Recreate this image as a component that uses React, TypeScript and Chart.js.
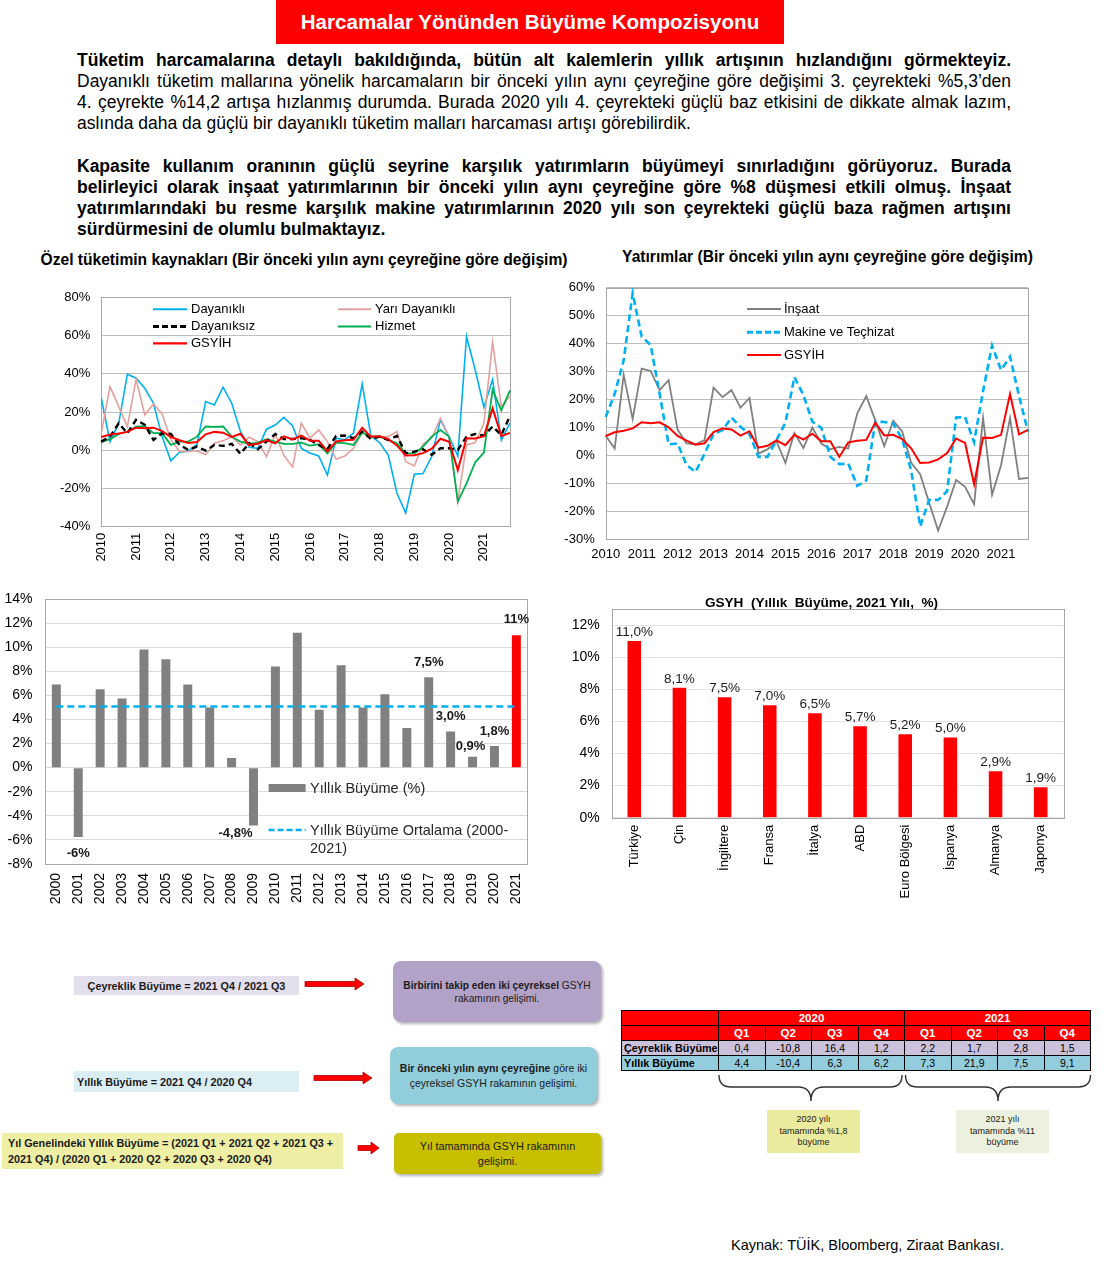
import React, { useEffect, useRef } from "react";
import { Chart, registerables } from "chart.js";

Chart.register(...registerables);

const FONT = '"Liberation Sans", Arial, Helvetica, sans-serif';
Chart.defaults.font.family = FONT;
Chart.defaults.color = "#000000";

// ---------- Quarterly data, 2010 Q1 – 2021 Q4 (yoy %) ----------
const quarterYears = ["2010", "2011", "2012", "2013", "2014", "2015", "2016", "2017", "2018", "2019", "2020", "2021"];
const quarterNames = ["Q1", "Q2", "Q3", "Q4"];
const quarterCategories = quarterYears.flatMap((y) => quarterNames.map((q) => `${y} ${q}`));

const gsyih = [6.9, 8.2, 8.8, 9.6, 11.8, 11.5, 11.8, 10.0, 6.9, 5.2, 3.8, 4.3, 8.3, 9.6, 9.2, 7.0, 8.6, 2.7, 3.4, 5.3, 3.6, 7.3, 5.6, 7.7, 5.0, 5.0, -0.6, 4.6, 5.2, 5.5, 11.7, 7.1, 7.3, 5.8, 2.5, -2.8, -2.6, -1.5, 0.8, 6.0, 4.4, -10.4, 6.3, 6.2, 7.3, 21.9, 7.5, 9.1];
const dayanikli = [27.2, 4.5, 14, 39.8, 37.7, 32.4, 24.6, 7, -5.5, -1, -0.5, 3, 25.5, 23.7, 33, 24.6, 9.8, 1.6, 1, 11, 13.2, 17.2, 12.7, 1, -1.5, -3, -13, 6.3, 5.5, 8.9, 34.7, 7.5, 4, -2.5, -22.5, -32.8, -12.6, -12.2, -3.3, 16, 7, -3, 59.5, 42, 22.5, 37, 5.3, 14.2];
const yariDayanikli = [8.9, 33.3, 22.8, 12.4, 37.1, 18.5, 24.2, 19, 5.4, -0.7, -0.7, -0.3, -2.4, 3.7, 4.9, 7.1, 2.8, 6.8, 4.5, -3.3, 8.5, -2.8, -8.7, 14.1, 6.3, 10.6, 4.5, -4.7, -3, 1, 8.9, 7.7, 7.1, 7.1, 9.8, -5.9, -8.2, 3.3, 6.3, 16.7, 7.1, -26.9, 2.8, 4, 14.1, 56.5, 22.8, 28.4];
const dayaniksiz = [4.5, 7.1, 14.1, 8.9, 15.9, 13.3, 5.4, 8.9, 8.5, 2.8, 0.2, 1.9, -0.2, 2.8, 2.3, 3.3, -1.9, 3.7, 0.5, 4.5, 8.5, 5.9, 5.9, 6.3, 5.4, 2.8, 0.5, 7.5, 7.7, 6.3, 9.8, 5.9, 7.1, 5.4, 7.5, -1.6, -0.7, 0.5, -2.4, 1, 1, 0.2, 7.1, 8.5, 7.7, 12.4, 8, 18];
const hizmet = [4.2, 5.8, 8.5, 9.8, 12.4, 12.7, 8.9, 8.9, 2.8, 4.5, 4.5, 7.1, 12.4, 12.2, 12.4, 7.1, 4.5, 3.3, 4, 5.8, 4.5, 3.3, 3.3, 4, 2.4, 3.1, -1.6, 4, 3.7, 2.8, 9.3, 7.1, 7.1, 5.4, 3.7, -1.6, -1.6, 1.9, 7.1, 10.6, 7.1, -26.9, -17.3, -6.3, -1.2, 31.6, 20.8, 31.3];
const insaat = [7.0, 2.4, 28.8, 13, 31, 30.2, 23.3, 26.9, 9.2, 4.2, 3.9, 5.4, 24.2, 20.8, 23.3, 17, 20.5, 0.6, 2.1, 5.0, -2.7, 8.0, 2.6, 9.9, 4.2, 2.1, 3.0, 2.4, 15, 21.2, 12.5, 3.3, 12.3, 8.5, -2.7, -6.8, -17, -27, -18.4, -8.9, -11.3, -17.5, 13.4, -14.2, -3.6, 13.4, -8.5, -8.1];
const makine = [13.7, 22, 34, 58, 42.5, 39.5, 22, 3.9, 4.2, -3.5, -6, 0.5, 7.6, 9, 13.5, 10.2, 7.6, -0.6, -0.6, 5.4, 11.6, 28, 21.6, 12, 9.8, -0.5, -3.2, -3, -11, -9, 12, 11.9, 11.4, 5.7, -5.5, -25.5, -16, -16, -12.9, 13.5, 13.6, 4.7, 23, 39.3, 30.5, 35.3, 21.3, 8.4];

// ---------- Annual growth 2000–2021 ----------
const annualYears = ["2000", "2001", "2002", "2003", "2004", "2005", "2006", "2007", "2008", "2009", "2010", "2011", "2012", "2013", "2014", "2015", "2016", "2017", "2018", "2019", "2020", "2021"];
const annualGrowth = [6.9, -5.75, 6.5, 5.75, 9.8, 9.0, 6.9, 5.0, 0.8, -4.8, 8.4, 11.2, 4.8, 8.5, 5.0, 6.1, 3.3, 7.5, 3.0, 0.9, 1.8, 11.0];
const averageGrowth = 5.07;
const highlightYear = "2021";
const annualLabelIndices = [1, 9, 17, 18, 19, 20, 21];
const annualLabelDecimals = [0, 1, 1, 1, 1, 1, 0];

// ---------- Country comparison 2021 ----------
const countries = ["Türkiye", "Çin", "İngiltere", "Fransa", "İtalya", "ABD", "Euro Bölgesi", "İspanya", "Almanya", "Japonya"];
const countryGrowth = [11.0, 8.1, 7.5, 7.0, 6.5, 5.7, 5.2, 5.0, 2.9, 1.9];

// ---------- Table ----------
const tableYears = ["2020", "2021"];
const tableQuarters = ["Q1", "Q2", "Q3", "Q4"];
const tableRowLabels = ["Çeyreklik Büyüme", "Yıllık Büyüme"];
const quarterlyGrowthRow = [0.4, -10.8, 16.4, 1.2, 2.2, 1.7, 2.8, 1.5];
const yearlyGrowthRow = [4.4, -10.4, 6.3, 6.2, 7.3, 21.9, 7.5, 9.1];

const fmt1 = (v: number) => v.toFixed(1).replace(".", ",");

const framePlugin = (color: string) => ({
  id: "frame",
  beforeDatasetsDraw(chart: any) {
    const { left, top, right, bottom } = chart.chartArea;
    const ctx = chart.ctx;
    ctx.save();
    ctx.strokeStyle = color;
    ctx.lineWidth = 1;
    ctx.strokeRect(Math.round(left) + 0.5, Math.round(top) + 0.5, Math.round(right - left), Math.round(bottom - top));
    ctx.restore();
  },
});

const ANNUAL_LABEL_OFFSETS = [[0, 17], [-18, 8], [0, -14.6], [0, -15.3], [-2, -10], [0, -14.3], [0, -15.3]];

const annualLabelPlugin = {
  id: "annualLabels",
  afterDatasetsDraw(chart: any) {
    const meta = chart.getDatasetMeta(0);
    const ctx = chart.ctx;
    ctx.save();
    ctx.font = `bold 13px ${FONT}`;
    ctx.fillStyle = "#1a1a1a";
    ctx.textAlign = "center";
    ctx.textBaseline = "middle";
    annualLabelIndices.forEach((idx, k) => {
      const el = meta.data[idx];
      const v = annualGrowth[idx];
      const [dx, dy] = ANNUAL_LABEL_OFFSETS[k];
      ctx.fillText(v.toFixed(annualLabelDecimals[k]).replace(".", ",") + "%", el.x + dx, el.y + dy);
    });
    ctx.restore();
  },
};

const countryLabelPlugin = {
  id: "countryLabels",
  afterDatasetsDraw(chart: any) {
    const meta = chart.getDatasetMeta(0);
    const ctx = chart.ctx;
    ctx.save();
    ctx.font = `13.5px ${FONT}`;
    ctx.fillStyle = "#1a1a1a";
    ctx.textAlign = "center";
    ctx.textBaseline = "bottom";
    meta.data.forEach((el: any, i: number) => {
      ctx.fillText(fmt1(countryGrowth[i]) + "%", el.x, el.y - 2);
    });
    ctx.restore();
  },
};

// fixed axis sizes; label-overflow paddings removed so layout.padding rules
const fixH = (h: number) => (s: any) => {
  s.height = h;
  s.paddingLeft = 0;
  s.paddingRight = 0;
  s.paddingTop = 0;
  s.paddingBottom = 0;
};
const fixW = (w: number) => (s: any) => {
  s.width = w;
  s.paddingLeft = 0;
  s.paddingRight = 0;
  s.paddingTop = 0;
  s.paddingBottom = 0;
};

type Box = { left: number; top: number; width: number; height: number };

function ChartBox({ box, build }: { box: Box; build: () => any }) {
  const ref = useRef<HTMLCanvasElement>(null);
  useEffect(() => {
    const chart = new Chart(ref.current as HTMLCanvasElement, build());
    return () => chart.destroy();
  }, []);
  return (
    <canvas
      ref={ref}
      width={box.width}
      height={box.height}
      style={{ position: "absolute", left: box.left, top: box.top, width: box.width, height: box.height }}
    />
  );
}

const pct = (v: any) => `${v}%`;

function consumptionConfig() {
  return {
    type: "line",
    data: {
      labels: quarterCategories,
      datasets: [
        { label: "Dayanıklı", data: dayanikli, borderColor: "#00b0f0", borderWidth: 1.6, order: 4 },
        { label: "Yarı Dayanıklı", data: yariDayanikli, borderColor: "#e3a09e", borderWidth: 1.6, order: 3 },
        { label: "Dayanıksız", data: dayaniksiz, borderColor: "#000000", borderWidth: 2.4, borderDash: [6, 4], order: 1 },
        { label: "Hizmet", data: hizmet, borderColor: "#00b050", borderWidth: 1.8, order: 2 },
        { label: "GSYİH", data: gsyih, borderColor: "#ff0000", borderWidth: 2, order: 0 },
      ],
    },
    options: {
      animation: false,
      responsive: false,
      layout: { padding: { left: 0, right: 10, top: 17.3, bottom: 13.3 } },
      elements: { point: { radius: 0 }, line: { tension: 0, fill: false } },
      plugins: { legend: { display: false }, tooltip: { enabled: false } },
      scales: {
        x: {
          type: "category",
          offset: false,
          grid: { display: false, drawTicks: false },
          border: { display: false },
          ticks: {
            autoSkip: false,
            maxRotation: 90,
            minRotation: 90,
            padding: 6,
            font: { size: 13 },
            color: "#000",
            callback: (_v: any, i: number) => (i % 4 === 0 ? quarterCategories[i].slice(0, 4) : ""),
          },
          afterFit: fixH(40),
        },
        y: {
          min: -40,
          max: 80,
          ticks: { stepSize: 20, callback: pct, font: { size: 13 }, color: "#000", padding: 11 },
          grid: { color: "#bfbfbf", drawTicks: false },
          border: { display: false },
          afterFit: fixW(61.3),
        },
      },
    },
    plugins: [framePlugin("#a6a6a6")],
  };
}

function investmentConfig() {
  return {
    type: "line",
    data: {
      labels: quarterCategories,
      datasets: [
        { label: "İnşaat", data: insaat, borderColor: "#808080", borderWidth: 1.8, order: 2 },
        { label: "Makine ve Teçhizat", data: makine, borderColor: "#00b0f0", borderWidth: 2.6, borderDash: [7, 4], order: 1 },
        { label: "GSYİH", data: gsyih, borderColor: "#ff0000", borderWidth: 2, order: 0 },
      ],
    },
    options: {
      animation: false,
      responsive: false,
      layout: { padding: { left: 0, right: 12, top: 12.7, bottom: 9 } },
      elements: { point: { radius: 0 }, line: { tension: 0, fill: false } },
      plugins: { legend: { display: false }, tooltip: { enabled: false } },
      scales: {
        x: {
          type: "category",
          offset: false,
          grid: { display: false, drawTicks: false },
          border: { display: false },
          ticks: {
            autoSkip: false,
            maxRotation: 0,
            minRotation: 0,
            padding: 8,
            font: { size: 13 },
            color: "#000",
            callback: (_v: any, i: number) => (i % 4 === 0 ? quarterCategories[i].slice(0, 4) : ""),
          },
          afterFit: fixH(22),
        },
        y: {
          min: -30,
          max: 60,
          ticks: { stepSize: 10, callback: pct, font: { size: 13 }, color: "#000", padding: 11 },
          grid: { color: "#bfbfbf", drawTicks: false },
          border: { display: false },
          afterFit: fixW(45.7),
        },
      },
    },
    plugins: [framePlugin("#a6a6a6")],
  };
}

function annualConfig() {
  return {
    type: "bar",
    data: {
      labels: annualYears,
      datasets: [
        {
          type: "bar",
          label: "Yıllık Büyüme (%)",
          data: annualGrowth,
          backgroundColor: annualYears.map((y) => (y === highlightYear ? "#ff0000" : "#808080")),
          barPercentage: 0.82,
          categoryPercentage: 0.5,
          order: 1,
        },
        {
          type: "line",
          label: "Yıllık Büyüme Ortalama (2000-2021)",
          data: annualYears.map(() => averageGrowth),
          borderColor: "#00b0f0",
          borderWidth: 2.6,
          borderDash: [7, 4],
          pointRadius: 0,
          order: 0,
        },
      ],
    },
    options: {
      animation: false,
      responsive: false,
      layout: { padding: { left: 0, right: 12.7, top: 9, bottom: 6 } },
      plugins: { legend: { display: false }, tooltip: { enabled: false } },
      scales: {
        x: {
          grid: { display: false, drawTicks: false },
          border: { display: false },
          ticks: { autoSkip: false, maxRotation: 90, minRotation: 90, padding: 9, font: { size: 14 }, color: "#000" },
          afterFit: fixH(40),
        },
        y: {
          min: -8,
          max: 14,
          ticks: { stepSize: 2, callback: pct, font: { size: 14 }, color: "#000", padding: 13 },
          grid: { color: "#d9d9d9", drawTicks: false },
          border: { display: false },
          afterFit: fixW(45.4),
        },
      },
    },
    plugins: [framePlugin("#a6a6a6"), annualLabelPlugin],
  };
}

function countryConfig() {
  return {
    type: "bar",
    data: {
      labels: countries,
      datasets: [
        {
          label: "GSYH",
          data: countryGrowth,
          backgroundColor: "#ff0000",
          barPercentage: 0.6,
          categoryPercentage: 0.5,
        },
      ],
    },
    options: {
      animation: false,
      responsive: false,
      layout: { padding: { left: 0, right: 6.7, top: 19, bottom: 7.3 } },
      plugins: { legend: { display: false }, tooltip: { enabled: false } },
      scales: {
        x: {
          grid: { display: false, drawTicks: false },
          border: { display: false },
          ticks: { autoSkip: false, maxRotation: 90, minRotation: 90, padding: 7, font: { size: 13 }, color: "#000" },
          afterFit: fixH(85),
        },
        y: {
          min: 0,
          max: 13,
          ticks: { stepSize: 2, includeBounds: false, callback: pct, font: { size: 14 }, color: "#000", padding: 12 },
          grid: { color: "#e3e3e3", drawTicks: false },
          border: { display: false },
          afterFit: fixW(51.7),
        },
      },
    },
    plugins: [framePlugin("#a6a6a6"), countryLabelPlugin],
  };
}

function T({ x, y, s, b, c = "#000", anchor = "left", children }: any) {
  const lh = s * 1.25;
  const style: any = {
    position: "absolute",
    top: y - lh / 2,
    lineHeight: `${lh}px`,
    fontSize: s,
    fontWeight: b ? "bold" : "normal",
    color: c,
    whiteSpace: "pre",
    fontFamily: FONT,
  };
  style.left = x;
  if (anchor !== "left") style.transform = "translateX(-50%)";
  return <div style={style}>{children}</div>;
}

const P1 = [
  { t: "Tüketim harcamalarına detaylı bakıldığında, bütün alt kalemlerin yıllık artışının hızlandığını görmekteyiz.", b: true, j: true },
  { t: "Dayanıklı tüketim mallarına yönelik harcamaların bir önceki yılın aynı çeyreğine göre değişimi 3. çeyrekteki %5,3’den", b: false, j: true },
  { t: "4. çeyrekte %14,2 artışa hızlanmış durumda. Burada 2020 yılı 4. çeyrekteki güçlü baz etkisini de dikkate almak lazım,", b: false, j: true },
  { t: "aslında daha da güçlü bir dayanıklı tüketim malları harcaması artışı görebilirdik.", b: false, j: false },
];
const P2 = [
  { t: "Kapasite kullanım oranının güçlü seyrine karşılık yatırımların büyümeyi sınırladığını görüyoruz. Burada", b: true, j: true },
  { t: "belirleyici olarak inşaat yatırımlarının bir önceki yılın aynı çeyreğine göre %8 düşmesi etkili olmuş. İnşaat", b: true, j: true },
  { t: "yatırımlarındaki bu resme karşılık makine yatırımlarının 2020 yılı son çeyrekteki güçlü baza rağmen artışını", b: true, j: true },
  { t: "sürdürmesini de olumlu bulmaktayız.", b: true, j: false },
];

function Paragraph({ top, lines }: any) {
  return (
    <div style={{ position: "absolute", left: 77, top, width: 934, fontFamily: FONT, fontSize: 17.5, color: "#000" }}>
      {lines.map((l: any, i: number) => (
        <div
          key={i}
          style={{
            height: 21.3,
            lineHeight: "21.3px",
            fontWeight: l.b ? "bold" : "normal",
            textAlign: l.j ? "justify" : "left",
            textAlignLast: l.j ? "justify" : "left",
            whiteSpace: "normal",
          } as any}
        >
          {l.t}
        </div>
      ))}
    </div>
  );
}

function Arrow({ x0, x1, y, head = 9 }: any) {
  const t = 5;
  const H = 12;
  const xh = x1 - head;
  const pts = `${x0},${y - t / 2} ${xh},${y - t / 2} ${xh},${y - H / 2} ${x1},${y} ${xh},${y + H / 2} ${xh},${y + t / 2} ${x0},${y + t / 2}`;
  return <polygon points={pts} fill="#ff0000" stroke="#b00000" strokeWidth={0.8} />;
}

const boxText: any = { fontFamily: FONT, color: "#1a1a1a", textAlign: "center" };

export default function App() {
  const colX = [621, 718, 764.5, 811, 857.5, 904, 950.5, 997, 1043.5, 1090];
  const rowY = [1010, 1025, 1040, 1055, 1070];
  const cells: any[] = [];
  const cell = (key: string, x0: number, x1: number, y0: number, y1: number, bg: string, content: any, st: any) => {
    cells.push(
      <div
        key={key}
        style={{
          position: "absolute",
          left: x0,
          top: y0,
          width: x1 - x0 + 1,
          height: y1 - y0 + 1,
          boxSizing: "border-box",
          border: "1px solid #000",
          background: bg,
          display: "flex",
          alignItems: "center",
          justifyContent: st.left ? "flex-start" : "center",
          paddingLeft: st.left ? 2 : 0,
          fontFamily: FONT,
          fontSize: st.size,
          fontWeight: st.bold ? "bold" : "normal",
          color: st.color,
          whiteSpace: "nowrap",
        }}
      >
        {content}
      </div>
    );
  };
  cell("h0", colX[0], colX[1], rowY[0], rowY[1], "#ff0000", "", { size: 11 });
  cell("h1", colX[0], colX[1], rowY[1], rowY[2], "#ff0000", "", { size: 11 });
  tableYears.forEach((yr, k) => {
    cell("y" + k, colX[1 + 4 * k], colX[5 + 4 * k], rowY[0], rowY[1], "#ff0000", yr, { size: 11.5, bold: true, color: "#fff" });
    tableQuarters.forEach((q, j) => {
      const c = 1 + 4 * k + j;
      cell(`q${k}${j}`, colX[c], colX[c + 1], rowY[1], rowY[2], "#ff0000", q, { size: 11.5, bold: true, color: "#fff" });
    });
  });
  const rows = [quarterlyGrowthRow, yearlyGrowthRow];
  const rowBg = ["#ccc1da", "#93cddd"];
  rows.forEach((vals, r) => {
    cell("l" + r, colX[0], colX[1], rowY[2 + r], rowY[3 + r], rowBg[r], tableRowLabels[r], { size: 10.8, bold: true, color: "#000", left: true });
    vals.forEach((v, c) => {
      cell(`v${r}${c}`, colX[1 + c], colX[2 + c], rowY[2 + r], rowY[3 + r], rowBg[r], fmt1(v), { size: 10.5, color: "#000" });
    });
  });

  return (
    <div style={{ position: "absolute", left: 0, top: 0, width: 1114, height: 1263, background: "#fff", overflow: "hidden", fontFamily: FONT }}>
      {/* title */}
      <div
        style={{
          position: "absolute", left: 276, top: 0, width: 508, height: 44, background: "#ff0000", color: "#fff",
          fontWeight: "bold", fontSize: 20.6, display: "flex", alignItems: "center", justifyContent: "center", fontFamily: FONT,
        }}
      >
        Harcamalar Yönünden Büyüme Kompozisyonu
      </div>

      <Paragraph top={49.5} lines={P1} />
      <Paragraph top={155.5} lines={P2} />

      <T x={304} y={260} s={15.6} b anchor="center">Özel tüketimin kaynakları (Bir önceki yılın aynı çeyreğine göre değişim)</T>
      <T x={827.5} y={257} s={15.6} b anchor="center">Yatırımlar (Bir önceki yılın aynı çeyreğine göre değişim)</T>

      <ChartBox box={{ left: 40, top: 280, width: 480, height: 300 }} build={consumptionConfig} />
      <ChartBox box={{ left: 560, top: 275, width: 480, height: 295 }} build={investmentConfig} />
      <ChartBox box={{ left: 0, top: 590, width: 540, height: 320 }} build={annualConfig} />
      <ChartBox box={{ left: 560, top: 590, width: 510, height: 320 }} build={countryConfig} />

      <T x={821.5} y={602} s={13.6} b anchor="center">GSYH  (Yıllık  Büyüme, 2021 Yılı,  %)</T>

      {/* legends text */}
      <T x={191} y={309.3} s={13}>Dayanıklı</T>
      <T x={191} y={326.5} s={13}>Dayanıksız</T>
      <T x={191} y={343.3} s={13}>GSYİH</T>
      <T x={375} y={309.3} s={13}>Yarı Dayanıklı</T>
      <T x={375} y={326.5} s={13}>Hizmet</T>

      <T x={784} y={309} s={13}>İnşaat</T>
      <T x={784} y={332.3} s={13}>Makine ve Teçhizat</T>
      <T x={784} y={355} s={13}>GSYİH</T>

      <T x={310} y={788} s={14.5} c="#262626">Yıllık Büyüme (%)</T>
      <T x={310} y={830} s={14.5} c="#262626">Yıllık Büyüme Ortalama (2000-</T>
      <T x={310} y={848} s={14.5} c="#262626">2021)</T>

      {/* diagram boxes */}
      <div style={{ position: "absolute", left: 74, top: 976, width: 225, height: 19, background: "#e4dfec", display: "flex", alignItems: "center", justifyContent: "center", ...boxText, fontSize: 10.8, fontWeight: "bold", whiteSpace: "nowrap" }}>
        Çeyreklik Büyüme = 2021 Q4 / 2021 Q3
      </div>
      <div style={{ position: "absolute", left: 74, top: 1071, width: 225, height: 21, background: "#daeef3", display: "flex", alignItems: "center", ...boxText, textAlign: "left", paddingLeft: 3, boxSizing: "border-box", fontSize: 10.8, fontWeight: "bold", whiteSpace: "nowrap" }}>
        Yıllık Büyüme = 2021 Q4 / 2020 Q4
      </div>
      <div style={{ position: "absolute", left: 2, top: 1133, width: 341, height: 36, background: "#eeeea4", boxSizing: "border-box", paddingLeft: 6, paddingTop: 3, ...boxText, textAlign: "left", fontSize: 10.8, fontWeight: "bold", lineHeight: "15.5px", whiteSpace: "nowrap" }}>
        <div>Yıl Genelindeki Yıllık Büyüme = (2021 Q1 + 2021 Q2 + 2021 Q3 +</div>
        <div>2021 Q4) / (2020 Q1 + 2020 Q2 + 2020 Q3 + 2020 Q4)</div>
      </div>

      <div style={{ position: "absolute", left: 393, top: 961, width: 208, height: 61, background: "#b3a2c7", borderRadius: 8, boxShadow: "2px 2px 3px rgba(0,0,0,0.3)", display: "flex", flexDirection: "column", alignItems: "center", justifyContent: "center", ...boxText, fontSize: 10.2, lineHeight: "13px", whiteSpace: "nowrap" }}>
        <div><b>Birbirini takip eden iki çeyreksel</b> GSYH</div>
        <div>rakamının gelişimi.</div>
      </div>
      <div style={{ position: "absolute", left: 390, top: 1047, width: 207, height: 57, background: "#92cddc", borderRadius: 8, boxShadow: "2px 2px 3px rgba(0,0,0,0.3)", display: "flex", flexDirection: "column", alignItems: "center", justifyContent: "center", ...boxText, fontSize: 10.5, lineHeight: "14.5px", whiteSpace: "nowrap" }}>
        <div><b>Bir önceki yılın aynı çeyreğine</b> göre iki</div>
        <div>çeyreksel  GSYH rakamının gelişimi.</div>
      </div>
      <div style={{ position: "absolute", left: 394, top: 1133, width: 207, height: 41, background: "#c8bf00", borderRadius: 5, boxShadow: "2px 2px 3px rgba(0,0,0,0.3)", display: "flex", flexDirection: "column", alignItems: "center", justifyContent: "center", ...boxText, fontSize: 10.9, lineHeight: "15px", whiteSpace: "nowrap" }}>
        <div>Yıl tamamında GSYH rakamının</div>
        <div>gelişimi.</div>
      </div>

      {/* table */}
      {cells}

      <div style={{ position: "absolute", left: 767, top: 1110, width: 93, height: 43, background: "#ebeb9f", display: "flex", flexDirection: "column", alignItems: "center", justifyContent: "center", ...boxText, fontSize: 9, lineHeight: "11.7px" }}>
        <div>2020 yılı</div>
        <div>tamamında %1,8</div>
        <div>büyüme</div>
      </div>
      <div style={{ position: "absolute", left: 956, top: 1110, width: 93, height: 43, background: "#ebf1de", display: "flex", flexDirection: "column", alignItems: "center", justifyContent: "center", ...boxText, fontSize: 9, lineHeight: "11.7px" }}>
        <div>2021 yılı</div>
        <div>tamamında %11</div>
        <div>büyüme</div>
      </div>

      <T x={731} y={1245} s={14.5}>Kaynak: TÜİK, Bloomberg, Ziraat Bankası.</T>

      {/* vector decorations: legend samples, arrows, braces */}
      <svg width={1114} height={1263} style={{ position: "absolute", left: 0, top: 0, pointerEvents: "none" }}>
        <line x1={153} y1={309.3} x2={187} y2={309.3} stroke="#00b0f0" strokeWidth={2} />
        <line x1={153} y1={326.5} x2={187} y2={326.5} stroke="#000" strokeWidth={3} strokeDasharray="6 3" />
        <line x1={153} y1={343.3} x2={187} y2={343.3} stroke="#ff0000" strokeWidth={2.2} />
        <line x1={338} y1={309.3} x2={371} y2={309.3} stroke="#e3a09e" strokeWidth={2} />
        <line x1={338} y1={326.5} x2={371} y2={326.5} stroke="#00b050" strokeWidth={2.2} />

        <line x1={747} y1={309} x2={781} y2={309} stroke="#808080" strokeWidth={2} />
        <line x1={747} y1={332.3} x2={781} y2={332.3} stroke="#00b0f0" strokeWidth={3} strokeDasharray="6 3" />
        <line x1={747} y1={355} x2={781} y2={355} stroke="#ff0000" strokeWidth={2.2} />

        <rect x={268.6} y={784} width={37} height={8} fill="#808080" />
        <line x1={268.6} y1={830} x2={305.5} y2={830} stroke="#00b0f0" strokeWidth={2.6} strokeDasharray="6 3" />

        <Arrow x0={305} x1={364} y={984} />
        <Arrow x0={314} x1={372} y={1078} />
        <Arrow x0={358} x1={379} y={1148} head={8} />

        <path d="M 719 1075 Q 719 1087 731 1087 L 798 1087 Q 811 1087 811 1101 Q 811 1087 824 1087 L 890 1087 Q 902 1087 902 1075" fill="none" stroke="#333" strokeWidth={1.4} />
        <path d="M 905.5 1075 Q 905.5 1087 917.5 1087 L 985 1087 Q 998 1087 998 1101 Q 998 1087 1011 1087 L 1078 1087 Q 1090.5 1087 1090.5 1075" fill="none" stroke="#333" strokeWidth={1.4} />
      </svg>
    </div>
  );
}
